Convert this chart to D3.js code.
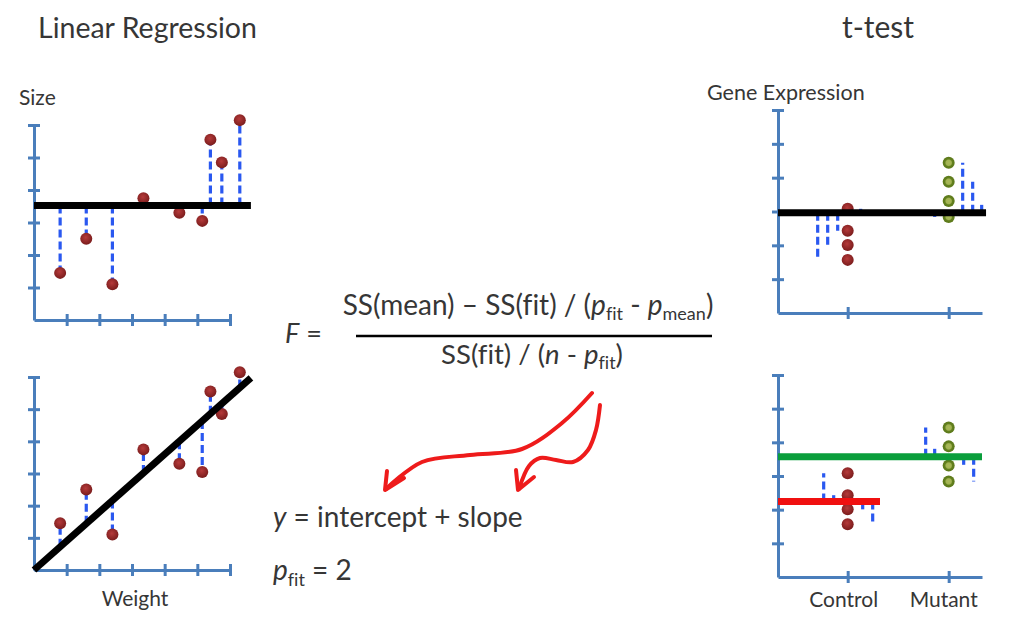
<!DOCTYPE html>
<html>
<head>
<meta charset="utf-8">
<script src="https://cdn.jsdelivr.net/npm/d3@7"></script>
<style>
  body { margin: 0; background: #fff; }
  text { font-family: Lato, "Open Sans", sans-serif; fill: #363636; font-variant-ligatures: none; }
</style>
</head>
<body>
<div id="chart"></div>
<script>
// Linear regression data (weight vs size)
const weight = [0.8, 1.6, 2.4, 3.35, 4.45, 5.15, 5.4, 5.75, 6.3];
const size = [1.45, 2.5, 1.1, 3.75, 3.3, 3.05, 5.55, 4.85, 6.15];
const fitIntercept = 0;
const fitSlope = 0.9;

// t-test data (gene expression)
const groups = ["Control", "Mutant"];
const controlExpr = [3.08, 2.43, 2.01, 1.57];
const mutantExpr = [4.44, 3.88, 3.31, 2.84];
const overallMean = 2.96;
const controlMean = 2.24;
const mutantMean = 3.57;

const axisTicks = [1, 2, 3, 4, 5, 6];

const W = 1023, H = 627;
const axisColor = "#4a7ebb";
const dashColor = "#2a58f0";

const svg = d3.select("#chart").append("svg")
  .attr("width", W).attr("height", H);

const defs = svg.append("defs");
const redGrad = defs.append("radialGradient").attr("id", "redDot").attr("cx", "45%").attr("cy", "40%").attr("r", "60%");
redGrad.append("stop").attr("offset", "0%").attr("stop-color", "#b53a3a");
redGrad.append("stop").attr("offset", "100%").attr("stop-color", "#7a1c1c");
const greenGrad = defs.append("radialGradient").attr("id", "greenDot").attr("r", "55%");
greenGrad.append("stop").attr("offset", "0%").attr("stop-color", "#a9b85a");
greenGrad.append("stop").attr("offset", "40%").attr("stop-color", "#a2b352");
greenGrad.append("stop").attr("offset", "58%").attr("stop-color", "#62801e");
greenGrad.append("stop").attr("offset", "100%").attr("stop-color", "#5a7618");

// axes with ticks that cross the line
function drawAxes(x, y, xTicks, yTicks) {
  const ax = svg.append("g")
    .attr("transform", `translate(0,${y.range()[0]})`)
    .call(d3.axisBottom(x).tickValues(xTicks).tickSizeOuter(0).tickFormat(""));
  ax.selectAll(".tick line").attr("y1", -6).attr("y2", 6);
  const ay = svg.append("g")
    .attr("transform", `translate(${x.range()[0]},0)`)
    .call(d3.axisLeft(y).tickValues(yTicks).tickSizeOuter(0).tickFormat(""));
  ay.selectAll(".tick line").attr("x1", -6).attr("x2", 6);
  svg.selectAll(".domain, .tick line")
    .attr("stroke", axisColor).attr("stroke-width", 3);
}

function dashLine(x1, y1, x2, y2) {
  svg.append("line")
    .attr("x1", x1).attr("y1", y1).attr("x2", x2).attr("y2", y2)
    .attr("stroke", dashColor).attr("stroke-width", 3.2)
    .attr("stroke-dasharray", "8,4");
}

function thickLine(x1, y1, x2, y2, color) {
  svg.append("line")
    .attr("x1", x1).attr("y1", y1).attr("x2", x2).attr("y2", y2)
    .attr("stroke", color).attr("stroke-width", 7);
}

function dots(xs, ys, fill) {
  svg.append("g").selectAll("circle")
    .data(xs)
    .enter().append("circle")
    .attr("cx", (d, i) => d)
    .attr("cy", (d, i) => ys[i])
    .attr("r", 6)
    .attr("fill", fill);
}

// ---------- Linear regression: top (mean) ----------
const xReg = d3.scaleLinear().domain([0, 6]).range([34, 230]);
const yTop = d3.scaleLinear().domain([0, 6]).range([320, 125]);
const yBot = d3.scaleLinear().domain([0, 6]).range([570, 377]);

drawAxes(xReg, yTop, axisTicks, axisTicks);
const sizeMean = d3.mean(size);
weight.forEach((w, i) => dashLine(xReg(w), yTop(sizeMean), xReg(w), yTop(size[i])));
dots(weight.map(xReg), size.map(yTop), "url(#redDot)");
thickLine(xReg(0), yTop(sizeMean), xReg(6.64), yTop(sizeMean), "#000");

// ---------- Linear regression: bottom (fit) ----------
drawAxes(xReg, yBot, axisTicks, axisTicks);
weight.forEach((w, i) => dashLine(xReg(w), yBot(fitIntercept + fitSlope * w), xReg(w), yBot(size[i])));
dots(weight.map(xReg), size.map(yBot), "url(#redDot)");
thickLine(xReg(0), yBot(fitIntercept), xReg(6.64), yBot(fitIntercept + fitSlope * 6.64), "#000");

// ---------- t-test ----------
const xT = d3.scaleLinear().domain([0.31, 2.33]).range([778, 982]);
const yTT = d3.scaleLinear().domain([0, 6]).range([313, 110]);
const yTB = d3.scaleLinear().domain([0, 6]).range([577, 375]);
// horizontal offsets (px) of each residual from its group's column
const offTopControl = [13, -10, -20, -30];
const offTopMutant = [14, 24, 33, -14];
const offBotControl = [-24, -14, 15, 25];
const offBotMutant = [-23, -14, 15, 25];

drawAxes(xT, yTT, [1, 2], axisTicks);
controlExpr.forEach((v, i) => dashLine(xT(1) + offTopControl[i], yTT(overallMean), xT(1) + offTopControl[i], yTT(v)));
mutantExpr.forEach((v, i) => dashLine(xT(2) + offTopMutant[i], yTT(overallMean), xT(2) + offTopMutant[i], yTT(v)));
dots(controlExpr.map(() => xT(1)), controlExpr.map(yTT), "url(#redDot)");
dots(mutantExpr.map(() => xT(2)), mutantExpr.map(yTT), "url(#greenDot)");
thickLine(xT(0.31), yTT(overallMean), xT(2.37), yTT(overallMean), "#000");

drawAxes(xT, yTB, [1, 2], axisTicks);
controlExpr.forEach((v, i) => dashLine(xT(1) + offBotControl[i], yTB(controlMean), xT(1) + offBotControl[i], yTB(v)));
mutantExpr.forEach((v, i) => dashLine(xT(2) + offBotMutant[i], yTB(mutantMean), xT(2) + offBotMutant[i], yTB(v)));
dots(controlExpr.map(() => xT(1)), controlExpr.map(yTB), "url(#redDot)");
dots(mutantExpr.map(() => xT(2)), mutantExpr.map(yTB), "url(#greenDot)");
thickLine(xT(0.31), yTB(mutantMean), xT(2.33), yTB(mutantMean), "#0a9e3c");
thickLine(xT(0.31), yTB(controlMean), xT(1.32), yTB(controlMean), "#f01010");

// ---------- Text ----------
function label(x, y, size, txt, anchor) {
  return svg.append("text").attr("x", x).attr("y", y)
    .attr("font-size", size).attr("text-anchor", anchor || "start").text(txt);
}
label(38, 38, 28.5, "Linear Regression");
label(878, 38, 30, "t-test", "middle");
label(19, 105, 21, "Size");
label(707, 100, 21.5, "Gene Expression");
label(135, 606, 21, "Weight", "middle");
label(xT(1) - 4, 607, 21, groups[0], "middle");
label(xT(2) - 5, 607, 21, groups[1], "middle");

// formula
const fEq = label(285, 343, 27, "");
fEq.append("tspan").attr("font-style", "italic").text("F");
fEq.append("tspan").text(" =");

const num = label(528, 315, 28, "", "middle");
num.append("tspan").text("SS(mean) – SS(fit) / (");
num.append("tspan").attr("font-style", "italic").text("p");
num.append("tspan").attr("font-size", 18).attr("dy", 5).text("fit");
num.append("tspan").attr("dy", -5).text(" - ");
num.append("tspan").attr("font-style", "italic").text("p");
num.append("tspan").attr("font-size", 18).attr("dy", 5).text("mean");
num.append("tspan").attr("dy", -5).text(")");

svg.append("line").attr("x1", 356).attr("x2", 712).attr("y1", 336).attr("y2", 336)
  .attr("stroke", "#000").attr("stroke-width", 2.5);

const den = label(532, 364, 27.5, "", "middle");
den.append("tspan").text("SS(fit) / (");
den.append("tspan").attr("font-style", "italic").text("n");
den.append("tspan").text(" - ");
den.append("tspan").attr("font-style", "italic").text("p");
den.append("tspan").attr("font-size", 18).attr("dy", 5).text("fit");
den.append("tspan").attr("dy", -5).text(")");

const yEq = label(273, 527, 28, "");
yEq.append("tspan").attr("font-style", "italic").text("y");
yEq.append("tspan").text(" = intercept + slope");

const pEq = label(273, 580, 28, "");
pEq.append("tspan").attr("font-style", "italic").text("p");
pEq.append("tspan").attr("font-size", 18).attr("dy", 6).text("fit");
pEq.append("tspan").attr("dy", -6).text(" = 2");

// ---------- red hand-drawn arrows ----------
const arrowLine = d3.line().curve(d3.curveCatmullRom);
const arrow1 = [[592, 393], [562, 423], [522, 449], [470, 455], [422, 462], [386, 489]];
const arrow2 = [[600, 405], [596, 430], [588, 450], [573, 462], [556, 460], [540, 458], [529, 466], [519, 489]];
const heads = [[[387, 471], [385, 490], [404, 478]], [[516, 470], [518, 490], [534, 477]]];
[arrow1, arrow2].forEach(a => svg.append("path").attr("d", arrowLine(a))
  .attr("fill", "none").attr("stroke", "#ee1b1b").attr("stroke-width", 4).attr("stroke-linecap", "round"));
heads.forEach(h => svg.append("path").attr("d", d3.line()(h))
  .attr("fill", "none").attr("stroke", "#ee1b1b").attr("stroke-width", 4)
  .attr("stroke-linecap", "round").attr("stroke-linejoin", "round"));
</script>
</body>
</html>
